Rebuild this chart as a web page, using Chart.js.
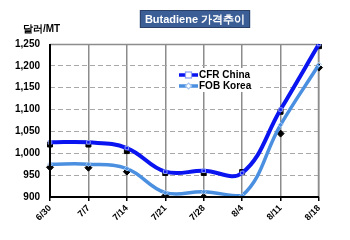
<!DOCTYPE html>
<html>
<head>
<meta charset="utf-8">
<script src="https://cdn.jsdelivr.net/npm/chart.js@4"></script>
<style>
html,body{margin:0;padding:0;background:#fff;}
#wrap{width:350px;height:240px;position:relative;}
</style>
</head>
<body>
<div id="wrap"><canvas id="c" width="350" height="240"></canvas></div>
<script>
const categories = ['6/30','7/7','7/14','7/21','7/28','8/4','8/11','8/18'];
const cfrChina   = [1025,1025,1012,958,960,955,1100,1250];
const fobKorea   = [975,975,965,910,912,903,1065,1203];
const cfrMarkers = [1020,1020,1005,955,955,957,1095,1245];
const fobMarkers = [968,967,958,903,900,900,1045,1196];
const yTicks     = [900,950,1000,1050,1100,1150,1200,1250];
const chartTitle = 'Butadiene 가격추이';
const yTitle     = '달러/MT';

const FONT = '"Liberation Sans", Arial, sans-serif';

const decor = {
  id: 'decor',
  beforeDatasetsDraw(chart) {
    const {ctx, chartArea: a} = chart;
    ctx.save();
    ctx.strokeStyle = '#8c8c8c';
    ctx.lineWidth = 1.5;
    ctx.beginPath();
    ctx.moveTo(a.left, a.top + 0.5); ctx.lineTo(a.right, a.top + 0.5);
    ctx.moveTo(a.right - 0.5, a.top); ctx.lineTo(a.right - 0.5, a.bottom);
    ctx.stroke();
    ctx.restore();
  },
  afterDraw(chart) {
    const {ctx, chartArea: a} = chart;
    ctx.save();
    ctx.strokeStyle = '#000';
    ctx.lineWidth = 2;
    ctx.beginPath();
    ctx.moveTo(a.left, a.top); ctx.lineTo(a.left, a.bottom);
    ctx.lineTo(a.right, a.bottom);
    ctx.stroke();
    ctx.font = 'bold 11px ' + FONT;
    const tw = ctx.measureText(chartTitle).width;
    const cx = 195, bw = tw + 10, bh = 18;
    ctx.fillStyle = '#3b5e96';
    ctx.fillRect(cx - bw/2, 10, bw, bh);
    ctx.strokeStyle = '#2a3f66';
    ctx.lineWidth = 1;
    ctx.strokeRect(cx - bw/2 + 0.5, 10.5, bw - 1, bh - 1);
    ctx.fillStyle = '#fff';
    ctx.textAlign = 'center';
    ctx.textBaseline = 'middle';
    ctx.fillText(chartTitle, cx, 19.5);
    ctx.fillStyle = '#000';
    ctx.font = 'bold 10px ' + FONT;
    ctx.textAlign = 'left';
    ctx.fillText(yTitle, 23, 29);
    ctx.fillStyle = '#fff';
    ctx.fillRect(176, 68, 84, 24);
    const items = [chart.data.datasets[0], chart.data.datasets[1]];
    items.forEach((ds, i) => {
      const y = 75 + i * 11;
      ctx.strokeStyle = ds.borderColor;
      ctx.lineWidth = 3.5;
      ctx.beginPath(); ctx.moveTo(179, y); ctx.lineTo(198, y); ctx.stroke();
      ctx.fillStyle = '#fff';
      ctx.lineWidth = 1.2;
      ctx.strokeStyle = ds.pointBorderColor;
      if (i === 0) {
        ctx.fillRect(185.5, y - 3, 6, 6);
        ctx.strokeRect(185.5, y - 3, 6, 6);
      } else {
        ctx.beginPath();
        ctx.moveTo(188.5, y - 3); ctx.lineTo(191.5, y); ctx.lineTo(188.5, y + 3); ctx.lineTo(185.5, y);
        ctx.closePath(); ctx.fill(); ctx.stroke();
      }
      ctx.fillStyle = '#000';
      ctx.font = 'bold 10px ' + FONT;
      ctx.textAlign = 'left';
      ctx.textBaseline = 'middle';
      ctx.fillText(ds.label, 199, y + 0.5);
    });
    ctx.restore();
  }
};

new Chart(document.getElementById('c'), {
  type: 'line',
  data: {
    labels: categories,
    datasets: [
      { label: 'CFR China', data: cfrChina, borderColor: '#0a14f0', borderWidth: 4,
        tension: 0.4, pointStyle: 'rect', pointRadius: 2.5, pointBackgroundColor: 'rgba(0,0,0,0)',
        pointBorderColor: '#8a9cf5', pointBorderWidth: 1, order: 1 },
      { label: 'FOB Korea', data: fobKorea, borderColor: '#4a8fe0', borderWidth: 3.5,
        tension: 0.4, pointStyle: 'rectRot', pointRadius: 2.5, pointBackgroundColor: 'rgba(0,0,0,0)',
        pointBorderColor: '#a8c8f0', pointBorderWidth: 1, order: 1 },
      { label: 'cfr-m', data: cfrMarkers, showLine: false, pointStyle: 'rect', pointRadius: 3.5,
        pointBackgroundColor: '#000', pointBorderColor: '#000', borderColor: '#000', order: 2 },
      { label: 'fob-m', data: fobMarkers, showLine: false, pointStyle: 'rectRot', pointRadius: 3.5,
        pointBackgroundColor: '#000', pointBorderColor: '#000', borderColor: '#000', order: 2 }
    ]
  },
  options: {
    responsive: false,
    animation: false,
    devicePixelRatio: 1,
    layout: { padding: { left: 0, right: 31, top: 44, bottom: 0 } },
    plugins: { legend: { display: false }, tooltip: { enabled: false }, title: { display: false } },
    scales: {
      x: {
        offset: false,
        grid: { color: '#8c8c8c', lineWidth: 1.5, drawTicks: true, tickLength: 4, tickColor: '#000' },
        border: { display: false },
        ticks: { color: '#000', font: { family: FONT, size: 9, weight: 'bold' }, maxRotation: 45, minRotation: 45, padding: 2, autoSkip: false },
        afterFit(s) { s.height = 43; }
      },
      y: {
        min: 900, max: 1250,
        afterBuildTicks(s) { s.ticks = yTicks.map(v => ({ value: v })); },
        grid: { color: '#a8a8a8', lineWidth: 1, drawTicks: false },
        border: { display: false, dash: [5, 3] },
        ticks: { color: '#000', font: { family: FONT, size: 10, weight: 'bold' }, padding: 10,
          callback: v => v.toLocaleString('en-US') },
        afterFit(s) { s.width = 50; }
      }
    }
  },
  plugins: [decor]
});
</script>
</body>
</html>
